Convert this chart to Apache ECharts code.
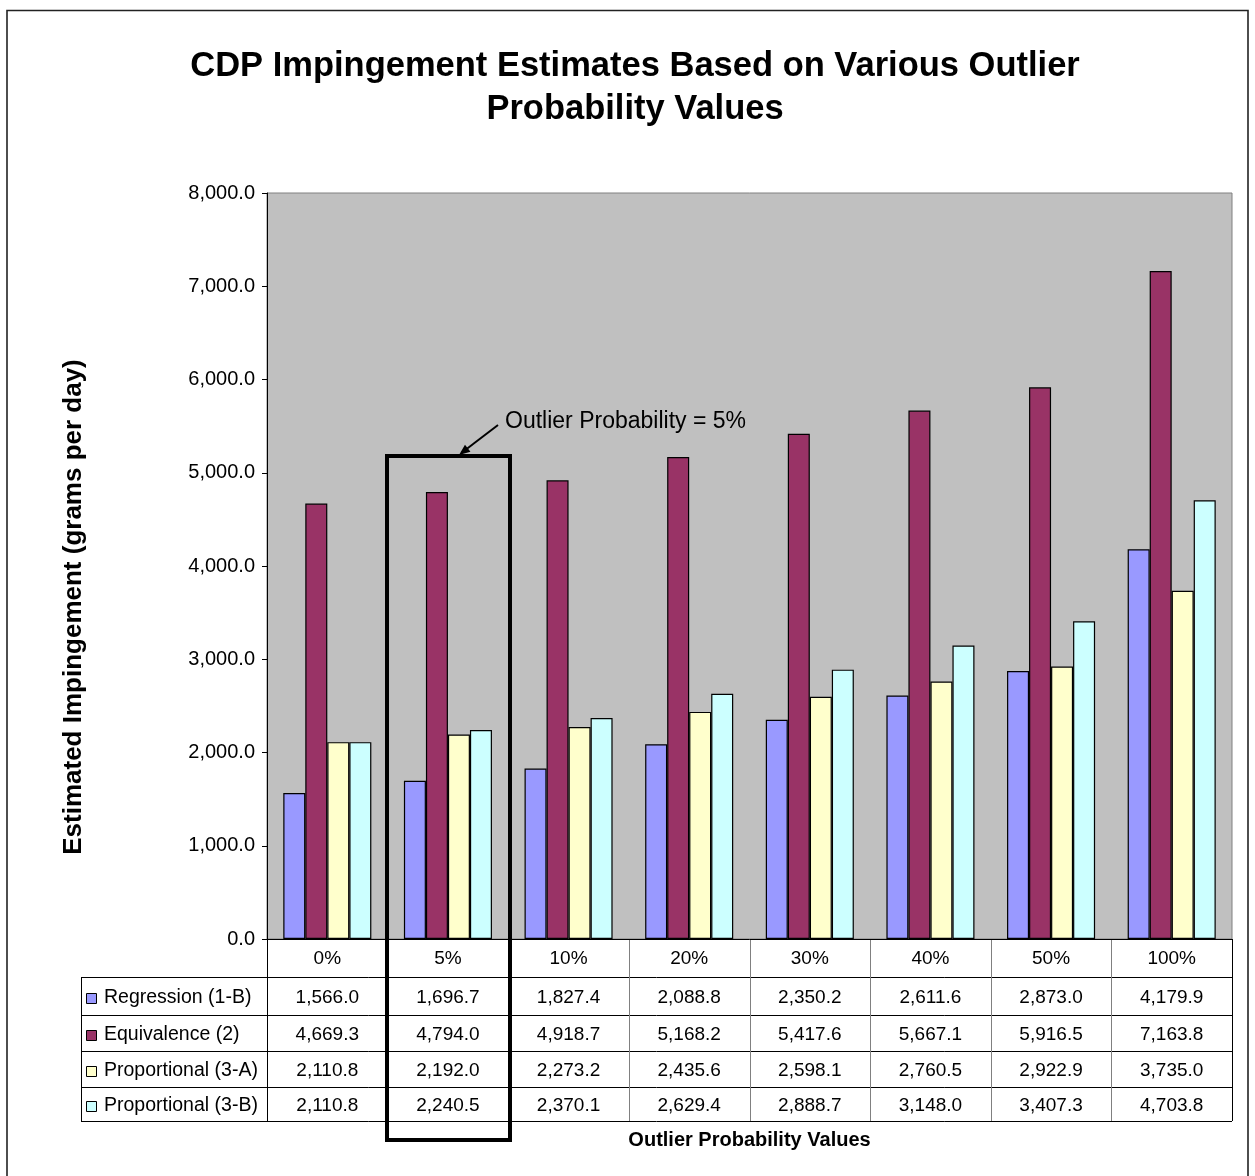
<!DOCTYPE html>
<html><head><meta charset="utf-8">
<script src="https://cdn.jsdelivr.net/npm/echarts@6/dist/echarts.min.js"></script>
<style>html,body{margin:0;padding:0;background:#fff}#c{width:1255px;height:1176px}</style>
</head><body><div id="c"></div>
<script>
const categories = ['0%','5%','10%','20%','30%','40%','50%','100%'];
const seriesNames = ['Regression (1-B)','Equivalence (2)','Proportional (3-A)','Proportional (3-B)'];
const regression = [1566.0,1696.7,1827.4,2088.8,2350.2,2611.6,2873.0,4179.9];
const equivalence = [4669.3,4794.0,4918.7,5168.2,5417.6,5667.1,5916.5,7163.8];
const proportional3A = [2110.8,2192.0,2273.2,2435.6,2598.1,2760.5,2922.9,3735.0];
const proportional3B = [2110.8,2240.5,2370.1,2629.4,2888.7,3148.0,3407.3,4703.8];
const yMin = 0, yMax = 8000, yInterval = 1000;
const titleLines = ['CDP Impingement Estimates Based on Various Outlier','Probability Values'];
const yAxisTitle = 'Estimated Impingement (grams per day)';
const xAxisTitle = 'Outlier Probability Values';
const annotationText = 'Outlier Probability = 5%';
const highlightIndex = 1;
const highlightTopValue = 5180;

const colors = ['#9999FF','#993366','#FFFFCC','#CCFFFF'];
const allData = [regression, equivalence, proportional3A, proportional3B];
const FONT = 'Arial, "Liberation Sans", sans-serif';
const fmt = v => v.toLocaleString('en-US',{minimumFractionDigits:1,maximumFractionDigits:1});

const chart = echarts.init(document.getElementById('c'), null, {renderer:'canvas'});
const GL = 267, GT = 193, GR = 1255-1232, GB = 1176-939;
chart.setOption({
  animation:false,
  backgroundColor:'#fff',
  title:{
    text: titleLines.join('\n'), left: 630, top: 40, textAlign:'center',
    textStyle:{fontFamily:FONT,fontSize:34.5,fontWeight:'bold',color:'#000',lineHeight:43}
  },
  grid:{left:GL, top:GT, right:GR, bottom:GB, show:true, backgroundColor:'#C0C0C0', borderColor:'#808080', borderWidth:1},
  xAxis:{
    type:'category', data:categories,
    axisLine:{show:true, lineStyle:{color:'#000',width:1}},
    axisTick:{show:false},
    axisLabel:{fontFamily:FONT,fontSize:19,color:'#000',margin:10}
  },
  yAxis:{
    type:'value', min:yMin, max:yMax, interval:yInterval,
    axisLine:{show:true, lineStyle:{color:'#000',width:1}},
    axisTick:{show:true, length:5, lineStyle:{color:'#000'}},
    splitLine:{show:false},
    axisLabel:{fontFamily:FONT,fontSize:20,color:'#000',margin:12, formatter:v=>fmt(v)}
  },
  series: allData.map((d,i)=>({
    type:'bar', name:seriesNames[i], data:d, barGap:'0%', barCategoryGap:'27%',
    itemStyle:{color:colors[i], borderColor:'#000', borderWidth:1.2}
  }))
});

function px(idx){ return chart.convertToPixel({xAxisIndex:0}, idx); }
function py(v){ return chart.convertToPixel({yAxisIndex:0}, v); }
const gridLeft = GL, gridRight = 1255-GR;
const catW = (gridRight-gridLeft)/categories.length;
const axisY = py(0);
const rowTops = [977, 1015, 1051, 1087, 1121];
const tableLeft = 81;
const g = [];
const lineS = {stroke:'#000', lineWidth:1};
// outer chart border
g.push({type:'rect', shape:{x:7,y:10.5,width:1241,height:1200}, style:{fill:null, stroke:'#222', lineWidth:1.6}, silent:true});
// y axis title
g.push({type:'text', x:74, y:607, rotation:Math.PI/2, style:{text:yAxisTitle, font:'bold 26px '+FONT, fill:'#000', textVerticalAlign:'middle', textAlign:'center'}});
// table horizontal lines
rowTops.forEach(y=>g.push({type:'line', shape:{x1:tableLeft,y1:y+0.5,x2:gridRight,y2:y+0.5}, style:lineS}));
// table verticals
g.push({type:'line', shape:{x1:tableLeft+0.5,y1:rowTops[0],x2:tableLeft+0.5,y2:rowTops[4]}, style:lineS});
for(let k=0;k<=categories.length;k++){
  const x = Math.round(gridLeft + k*catW)+0.5;
  g.push({type:'line', shape:{x1:x,y1:axisY,x2:x,y2:rowTops[4]}, style:{stroke: (k===0||k===categories.length)?'#000':'#808080', lineWidth:1}});
}
// legend column + values
seriesNames.forEach((n,i)=>{
  const yc = (rowTops[i]+rowTops[i+1])/2 + 2;
  g.push({type:'rect', shape:{x:86.5,y:yc-4.5,width:10,height:10}, style:{fill:colors[i], stroke:'#000', lineWidth:1}});
  g.push({type:'text', x:104, y:yc, style:{text:n, font:'19.5px '+FONT, fill:'#000', textVerticalAlign:'middle', textAlign:'left'}});
  allData[i].forEach((v,j)=>{
    g.push({type:'text', x:px(j), y:yc, style:{text:fmt(v), font:'19px '+FONT, fill:'#000', textVerticalAlign:'middle', textAlign:'center'}});
  });
});
// x axis title
g.push({type:'text', x:(gridLeft+gridRight)/2, y:1140, style:{text:xAxisTitle, font:'bold 20px '+FONT, fill:'#000', textVerticalAlign:'middle', textAlign:'center'}});
// highlight box
const hx1 = Math.round(px(highlightIndex) - catW/2) - 1;
const hx2 = Math.round(px(highlightIndex) + catW/2) + 2;
const hyTop = Math.round(py(highlightTopValue));
g.push({type:'rect', shape:{x:hx1,y:hyTop,width:hx2-hx1,height:1140-hyTop}, style:{fill:null, stroke:'#000', lineWidth:4}, z:100});
// arrow
const ax1 = 498, ay1 = 425, ax2 = 459, ay2 = hyTop-1;
g.push({type:'line', shape:{x1:ax1,y1:ay1,x2:ax2+3,y2:ay2-2.5}, style:{stroke:'#000', lineWidth:2}, z:100});
{
  const ang = Math.atan2(ay2-ay1, ax2-ax1), L=11, W=4.5;
  const bx = ax2 - L*Math.cos(ang), by = ay2 - L*Math.sin(ang);
  const nx = -Math.sin(ang), ny = Math.cos(ang);
  g.push({type:'polygon', shape:{points:[[ax2,ay2],[bx+nx*W,by+ny*W],[bx-nx*W,by-ny*W]]}, style:{fill:'#000'}, z:100});
}
g.push({type:'text', x:505, y:422, style:{text:annotationText, font:'23px '+FONT, fill:'#000', textVerticalAlign:'middle', textAlign:'left'}, z:100});
chart.setOption({graphic:{elements:g}});
</script></body></html>
